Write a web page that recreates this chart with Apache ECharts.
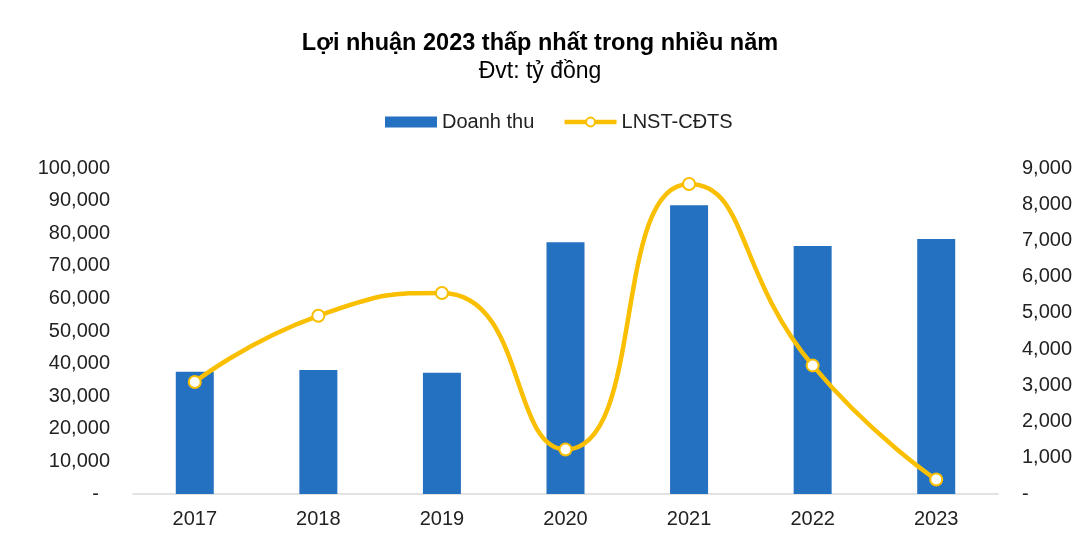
<!DOCTYPE html>
<html>
<head>
<meta charset="utf-8">
<script src="https://cdn.jsdelivr.net/npm/echarts@6/dist/echarts.min.js"></script>
<style>html,body{margin:0;padding:0;background:#fff;}#c{width:1080px;height:554px;}</style>
</head>
<body>
<div id="c"></div>
<script>
const categories = ['2017','2018','2019','2020','2021','2022','2023'];
const doanhThu = [37500, 38000, 37200, 77200, 88600, 76100, 78200];
const lnst = [3090, 4920, 5550, 1230, 8560, 3550, 400];
const leftTicks = {min: 0, max: 100000, interval: 10000};
const rightTicks = {min: 0, max: 9000, interval: 1000};

const fmt = v => v === 0 ? '{d|-}' : v.toLocaleString('en-US');
const FONT = '"Liberation Sans", Arial, sans-serif';
const chart = echarts.init(document.getElementById('c'));
chart.setOption({
  animation: false,
  textStyle: {fontFamily: FONT},
  title: {
    text: 'Lợi nhuận 2023 thấp nhất trong nhiều năm',
    subtext: 'Đvt: tỷ đồng',
    left: 'center', top: 27, itemGap: 4,
    textStyle: {fontFamily: FONT, fontSize: 23.5, fontWeight: 'bold', color: '#000'},
    subtextStyle: {fontFamily: FONT, fontSize: 23, color: '#000'}
  },
  legend: {
    top: 107, left: 380, itemGap: 28, itemWidth: 52, itemHeight: 11,
    textStyle: {fontFamily: FONT, fontSize: 20, color: '#222'},
    data: [
      {name: 'Doanh thu', icon: 'rect'},
      {name: 'LNST-CĐTS', lineStyle: {width: 4.5, color: '#F9BF00'}}
    ]
  },
  grid: {left: 133, right: 82, top: 168, bottom: 60, containLabel: false},
  xAxis: {
    type: 'category', data: categories,
    axisLine: {lineStyle: {color: '#d9d9d9', width: 1.5}},
    axisTick: {show: false},
    axisLabel: {fontSize: 20, color: '#222', margin: 15}
  },
  yAxis: [
    {type: 'value', min: leftTicks.min, max: leftTicks.max, interval: leftTicks.interval,
      splitLine: {show: false}, axisLine: {show: false}, axisTick: {show: false},
      axisLabel: {fontSize: 20, color: '#222', margin: 23, formatter: fmt,
        rich: {d: {fontSize: 20, color: '#222', padding: [0, 11, 0, 0]}}}},
    {type: 'value', min: rightTicks.min, max: rightTicks.max, interval: rightTicks.interval,
      splitLine: {show: false}, axisLine: {show: false}, axisTick: {show: false},
      axisLabel: {fontSize: 20, color: '#222', margin: 24, formatter: fmt,
        rich: {d: {fontSize: 20, color: '#222', padding: [0, 0, 0, 0]}}}}
  ],
  series: [
    {name: 'Doanh thu', type: 'bar', data: doanhThu, yAxisIndex: 0, barWidth: 38,
      itemStyle: {color: '#2571C1'}},
    {name: 'LNST-CĐTS', type: 'line', data: lnst, yAxisIndex: 1, smooth: 0.55,
      symbol: 'circle', symbolSize: 12,
      lineStyle: {color: '#F9BF00', width: 4.5},
      itemStyle: {color: '#fff', borderColor: '#F9BF00', borderWidth: 2}}
  ]
});
</script>
</body>
</html>
